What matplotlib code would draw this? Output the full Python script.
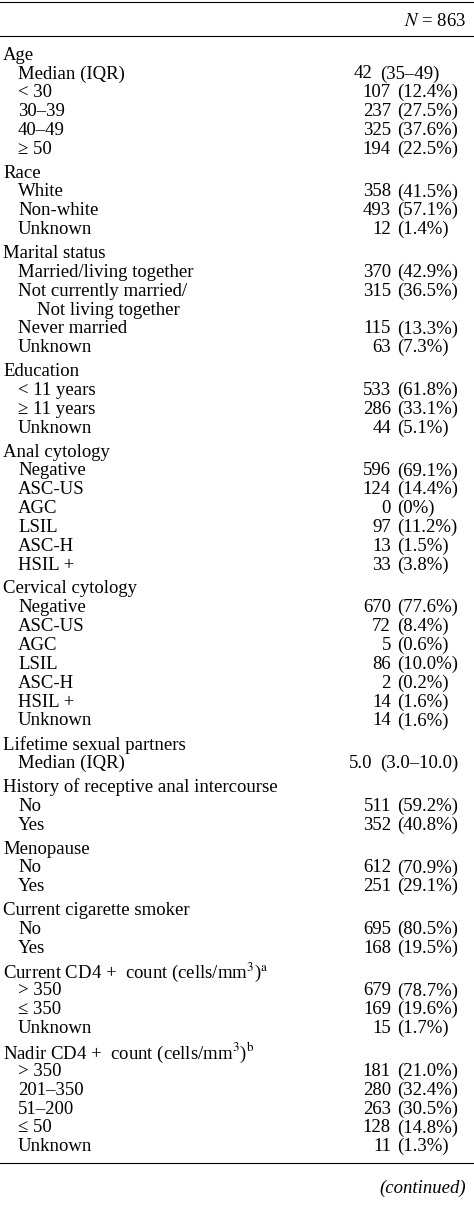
import matplotlib

matplotlib.use("Agg")

import matplotlib.pyplot as plt

plt.rcParams["font.family"] = ["Liberation Serif", "DejaVu Serif"]
plt.rcParams["mathtext.fontset"] = "stix"

header = "$N$ = 863"

section_titles = [
    "Age", "Race", "Marital status", "Education", "Anal cytology",
    "Cervical cytology", "Lifetime sexual partners",
    "History of receptive anal intercourse", "Menopause",
    "Current cigarette smoker",
    r"Current CD4 +  count (cells/mm$^3$)$^{\mathrm{a}}$",
    r"Nadir CD4 +  count (cells/mm$^3$)$^{\mathrm{b}}$",
]

row_labels = [
    ["Median (IQR)", "< 30", "30–39", "40–49", "≥ 50"],
    ["White", "Non-white", "Unknown"],
    ["Married/living together", "Not currently married/", "  Not living together",
     "Never married", "Unknown"],
    ["< 11 years", "≥ 11 years", "Unknown"],
    ["Negative", "ASC-US", "AGC", "LSIL", "ASC-H", "HSIL +"],
    ["Negative", "ASC-US", "AGC", "LSIL", "ASC-H", "HSIL +", "Unknown"],
    ["Median (IQR)"],
    ["No", "Yes"],
    ["No", "Yes"],
    ["No", "Yes"],
    ["> 350", "≤ 350", "Unknown"],
    ["> 350", "201–350", "51–200", "≤ 50", "Unknown"],
]

row_values = [
    ["42 (35–49)", "107 (12.4%)", "237 (27.5%)", "325 (37.6%)", "194 (22.5%)"],
    ["358 (41.5%)", "493 (57.1%)", "12 (1.4%)"],
    ["370 (42.9%)", "315 (36.5%)", "", "115 (13.3%)", "63 (7.3%)"],
    ["533 (61.8%)", "286 (33.1%)", "44 (5.1%)"],
    ["596 (69.1%)", "124 (14.4%)", "0 (0%)", "97 (11.2%)", "13 (1.5%)", "33 (3.8%)"],
    ["670 (77.6%)", "72 (8.4%)", "5 (0.6%)", "86 (10.0%)", "2 (0.2%)", "14 (1.6%)", "14 (1.6%)"],
    ["5.0 (3.0–10.0)"],
    ["511 (59.2%)", "352 (40.8%)"],
    ["612 (70.9%)", "251 (29.1%)"],
    ["695 (80.5%)", "168 (19.5%)"],
    ["679 (78.7%)", "169 (19.6%)", "15 (1.7%)"],
    ["181 (21.0%)", "280 (32.4%)", "263 (30.5%)", "128 (14.8%)", "11 (1.3%)"],
]

W, H = 474, 1209
fig = plt.figure(figsize=(W / 100, H / 100), dpi=100)
ax = fig.add_axes([0, 0, 1, 1])
ax.set_xlim(0, W)
ax.set_ylim(H, 0)
ax.axis("off")

fs = 13.5
step = 18.85
gap = 5
x_num, x_par = 391, 397

ax.axhline(2, color="black", lw=0.8)
ax.text(W - 8, 21, header, fontsize=fs, ha="right", va="center")
ax.axhline(36, color="black", lw=0.8)

y = 55
for title, labels, values in zip(section_titles, row_labels, row_values):
    ax.text(3, y, title, fontsize=fs, ha="left", va="center")
    y += step
    for lab, val in zip(labels, values):
        x_lab = 37 if lab.startswith("  ") else 18
        ax.text(x_lab, y, lab.strip(), fontsize=fs, ha="left", va="center")
        if val:
            num, par = val.split(" ", 1)
            xn, xp = (372, 380) if lab.startswith("Median") else (x_num, x_par)
            ax.text(xn, y, num, fontsize=fs, ha="right", va="center")
            ax.text(xp, y, par, fontsize=fs, ha="left", va="center")
        y += step
    y += gap

ax.axhline(1163, color="black", lw=0.8)
ax.text(W - 8, 1188, "(continued)", fontsize=fs, ha="right", va="center",
        style="italic")

fig.savefig("out.png", dpi=100)
